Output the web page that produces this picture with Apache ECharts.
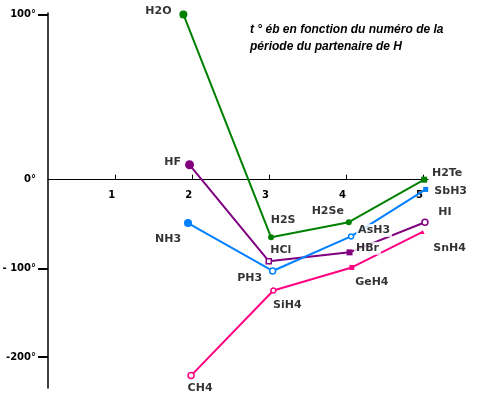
<!DOCTYPE html>
<html>
<head>
<meta charset="utf-8">
<script src="https://cdn.jsdelivr.net/npm/echarts@6/dist/echarts.min.js"></script>
<style>
  html, body { margin: 0; padding: 0; background: #fff; }
  #chart { width: 478px; height: 399px; }
</style>
</head>
<body>
<div id="chart"></div>
<script>
// boiling points (x = period as drawn, t in °C)
const g16Names = ['H2O', 'H2S', 'H2Se', 'H2Te'];
const g16X = [1.88, 3.02, 4.03, 5.01];
const g16Temp = [100, -65, -48, 0];

const g17Names = ['HF', 'HCl', 'HBr', 'HI'];
const g17X = [1.96, 2.99, 4.04, 5.02];
const g17Temp = [9, -92, -82, -48];

const g15Names = ['NH3', 'PH3', 'AsH3', 'SbH3'];
const g15X = [1.94, 3.04, 4.06, 5.03];
const g15Temp = [-49, -103, -64, -11];

const g14Names = ['CH4', 'SiH4', 'GeH4', 'SnH4'];
const g14X = [1.98, 3.05, 4.07, 4.99];
const g14Temp = [-221, -125, -99, -59];

const xTicks = [1, 2, 3, 4, 5];
const yTickDegrees = [100, 0, -100, -200];
const yTickLabels = ['100°', '0°', '- 100°', '-200°'];

// the drawing stretches the part above 0°: 100° sits ~1.86x further from 0 than -100°
const k = 1.864;
const toPlot = t => t > 0 ? t * k : t;

const yMin = -235, yMax = 188;
const gridTop = 13, gridBottom = 11, chartH = 399;

// marker look per compound: [symbol, size, filled]
const markers = {
  H2O: ['circle', 8, true], H2S: ['circle', 6, true], H2Se: ['circle', 6, true], H2Te: ['rect', 6, true],
  HF: ['circle', 9, true], HCl: ['rect', 5, false], HBr: ['rect', 6, true], HI: ['circle', 6, false],
  NH3: ['circle', 8, true], PH3: ['circle', 6, false], AsH3: ['circle', 5, false], SbH3: ['rect', 5, true],
  CH4: ['circle', 6, false], SiH4: ['circle', 5, false], GeH4: ['rect', 5, true], SnH4: ['triangle', 4, true]
};

// where each name sits relative to its point (px)
const labelOffsets = {
  H2O: [-25, -3], H2S: [12, -17], H2Se: [-21, -11], H2Te: [23, -7],
  HF: [-17, -3], HCl: [12, -11], HBr: [18, -4], HI: [20, -10],
  NH3: [-20, 16], PH3: [-23, 7], AsH3: [23, -6], SbH3: [25, 2],
  CH4: [9, 13], SiH4: [14, 15], GeH4: [20, 15], SnH4: [27, 16]
};

const groups = [
  { names: g16Names, x: g16X, t: g16Temp, color: '#008000' },
  { names: g17Names, x: g17X, t: g17Temp, color: '#800080' },
  { names: g15Names, x: g15X, t: g15Temp, color: '#0080ff' },
  { names: g14Names, x: g14X, t: g14Temp, color: '#ff0080' }
];

const lineSeries = groups.map(g => ({
  type: 'line',
  z: 2,
  data: g.names.map((n, i) => {
    const m = markers[n];
    return {
      name: n,
      value: [g.x[i], toPlot(g.t[i])],
      symbol: m[0],
      symbolSize: m[1],
      itemStyle: m[2]
        ? { color: g.color, borderColor: g.color, borderWidth: 0 }
        : { color: '#fff', borderColor: g.color, borderWidth: 1.5 }
    };
  }),
  showAllSymbol: true,
  lineStyle: { color: g.color, width: 2 },
  label: { show: false }
}));

// names drawn on top, white boxes break the lines like in the drawing
const labelData = [];
groups.forEach(g => g.names.forEach((n, i) => {
  labelData.push({ name: n, value: [g.x[i], toPlot(g.t[i])], label: { offset: labelOffsets[n] } });
}));

const labelSeries = {
  type: 'scatter',
  z: 10,
  symbolSize: 1,
  itemStyle: { color: 'rgba(0,0,0,0)' },
  data: labelData,
  label: {
    show: true,
    position: 'inside',
    formatter: '{b}',
    color: '#000',
    fontFamily: 'DejaVu Sans',
    fontWeight: 'bold',
    fontSize: 11,
    backgroundColor: '#fff',
    padding: [1, 2]
  }
};

// x axis drawn across the 0° level: shift it up from the grid bottom
const plotH = chartH - gridTop - gridBottom;
const zeroFromBottom = plotH * (0 - yMin) / (yMax - yMin);

const chart = echarts.init(document.getElementById('chart'));
chart.setOption({
  animation: false,
  title: {
    text: 't ° éb en fonction du numéro de la\npériode du partenaire de H',
    left: 250,
    top: 21,
    padding: 0,
    textStyle: {
      fontFamily: 'Liberation Sans',
      fontSize: 12,
      fontWeight: 'bold',
      fontStyle: 'italic',
      lineHeight: 17,
      color: '#000'
    }
  },
  grid: { left: 48, right: 50, top: gridTop, bottom: gridBottom, containLabel: false, outerBoundsMode: 'none' },
  xAxis: {
    type: 'value',
    min: 0.12,
    max: 5.06,
    offset: -zeroFromBottom,
    splitLine: { show: false },
    axisLine: { onZero: false, lineStyle: { color: '#000', width: 1 } },
    axisTick: { show: true, inside: true, length: 5, customValues: xTicks, lineStyle: { color: '#000' } },
    axisLabel: {
      customValues: xTicks,
      margin: 11,
      padding: [0, 8, 0, 0],
      color: '#000',
      fontFamily: 'DejaVu Sans',
      fontWeight: 'bold',
      fontSize: 10
    }
  },
  yAxis: {
    type: 'value',
    min: yMin,
    max: yMax,
    splitLine: { show: false },
    axisLine: { show: true, onZero: false, lineStyle: { color: '#000', width: 1.5 } },
    axisTick: {
      show: true,
      length: 10,
      customValues: [toPlot(100), -100, -200],
      lineStyle: { color: '#000', width: 2 }
    },
    axisLabel: {
      customValues: yTickDegrees.map(toPlot),
      margin: 12,
      color: '#000',
      fontFamily: 'DejaVu Sans',
      fontWeight: 'bold',
      fontSize: 10,
      formatter: v => {
        const i = yTickDegrees.map(toPlot).findIndex(p => Math.abs(p - v) < 0.01);
        return i >= 0 ? yTickLabels[i] : '';
      }
    }
  },
  series: [...lineSeries, labelSeries]
});
</script>
</body>
</html>
